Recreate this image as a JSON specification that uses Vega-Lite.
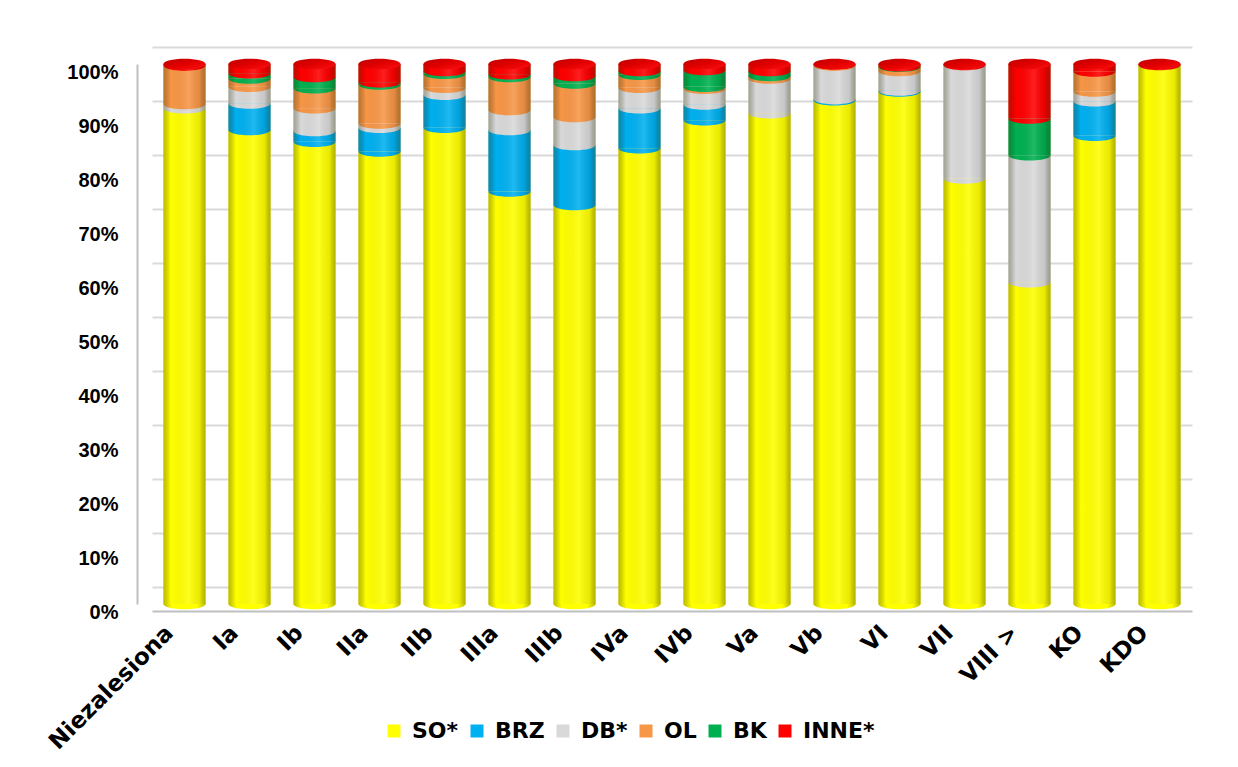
{
  "$schema": "https://vega.github.io/schema/vega-lite/v6.json",
  "width": 1040,
  "height": 540,
  "autosize": {"type": "none"},
  "padding": {"left": 152, "top": 64, "right": 46, "bottom": 163},
  "background": "white",
  "config": {"view": {"stroke": null}, "font": "Liberation Sans"},
  "data": {
    "values": [
      {"cat": "Niezalesiona", "s": "SO*", "v": 91.8},
      {"cat": "Niezalesiona", "s": "BRZ", "v": 0},
      {"cat": "Niezalesiona", "s": "DB*", "v": 0.8},
      {"cat": "Niezalesiona", "s": "OL", "v": 7.1},
      {"cat": "Niezalesiona", "s": "BK", "v": 0},
      {"cat": "Niezalesiona", "s": "INNE*", "v": 0.3},
      {"cat": "Ia", "s": "SO*", "v": 87.8},
      {"cat": "Ia", "s": "BRZ", "v": 4.9},
      {"cat": "Ia", "s": "DB*", "v": 3.1},
      {"cat": "Ia", "s": "OL", "v": 1.5},
      {"cat": "Ia", "s": "BK", "v": 1.0},
      {"cat": "Ia", "s": "INNE*", "v": 1.7},
      {"cat": "Ib", "s": "SO*", "v": 85.6},
      {"cat": "Ib", "s": "BRZ", "v": 2.0},
      {"cat": "Ib", "s": "DB*", "v": 4.2},
      {"cat": "Ib", "s": "OL", "v": 3.7},
      {"cat": "Ib", "s": "BK", "v": 2.1},
      {"cat": "Ib", "s": "INNE*", "v": 2.4},
      {"cat": "IIa", "s": "SO*", "v": 83.8},
      {"cat": "IIa", "s": "BRZ", "v": 4.4},
      {"cat": "IIa", "s": "DB*", "v": 0.8},
      {"cat": "IIa", "s": "OL", "v": 7.2},
      {"cat": "IIa", "s": "BK", "v": 0.4},
      {"cat": "IIa", "s": "INNE*", "v": 3.4},
      {"cat": "IIb", "s": "SO*", "v": 88.2},
      {"cat": "IIb", "s": "BRZ", "v": 6.1},
      {"cat": "IIb", "s": "DB*", "v": 1.3},
      {"cat": "IIb", "s": "OL", "v": 2.6},
      {"cat": "IIb", "s": "BK", "v": 0.5},
      {"cat": "IIb", "s": "INNE*", "v": 1.3},
      {"cat": "IIIa", "s": "SO*", "v": 76.4},
      {"cat": "IIIa", "s": "BRZ", "v": 11.4},
      {"cat": "IIIa", "s": "DB*", "v": 3.7},
      {"cat": "IIIa", "s": "OL", "v": 6.1},
      {"cat": "IIIa", "s": "BK", "v": 0.5},
      {"cat": "IIIa", "s": "INNE*", "v": 1.9},
      {"cat": "IIIb", "s": "SO*", "v": 73.9},
      {"cat": "IIIb", "s": "BRZ", "v": 11.1},
      {"cat": "IIIb", "s": "DB*", "v": 5.2},
      {"cat": "IIIb", "s": "OL", "v": 6.2},
      {"cat": "IIIb", "s": "BK", "v": 1.4},
      {"cat": "IIIb", "s": "INNE*", "v": 2.2},
      {"cat": "IVa", "s": "SO*", "v": 84.4},
      {"cat": "IVa", "s": "BRZ", "v": 7.4},
      {"cat": "IVa", "s": "DB*", "v": 3.8},
      {"cat": "IVa", "s": "OL", "v": 2.4},
      {"cat": "IVa", "s": "BK", "v": 0.7},
      {"cat": "IVa", "s": "INNE*", "v": 1.3},
      {"cat": "IVb", "s": "SO*", "v": 89.6},
      {"cat": "IVb", "s": "BRZ", "v": 2.9},
      {"cat": "IVb", "s": "DB*", "v": 2.9},
      {"cat": "IVb", "s": "OL", "v": 0.4},
      {"cat": "IVb", "s": "BK", "v": 3.1},
      {"cat": "IVb", "s": "INNE*", "v": 1.1},
      {"cat": "Va", "s": "SO*", "v": 90.9},
      {"cat": "Va", "s": "BRZ", "v": 0},
      {"cat": "Va", "s": "DB*", "v": 6.4},
      {"cat": "Va", "s": "OL", "v": 0.5},
      {"cat": "Va", "s": "BK", "v": 0.9},
      {"cat": "Va", "s": "INNE*", "v": 1.3},
      {"cat": "Vb", "s": "SO*", "v": 93.3},
      {"cat": "Vb", "s": "BRZ", "v": 0.2},
      {"cat": "Vb", "s": "DB*", "v": 6.2},
      {"cat": "Vb", "s": "OL", "v": 0.2},
      {"cat": "Vb", "s": "BK", "v": 0},
      {"cat": "Vb", "s": "INNE*", "v": 0.1},
      {"cat": "VI", "s": "SO*", "v": 94.9},
      {"cat": "VI", "s": "BRZ", "v": 0.2},
      {"cat": "VI", "s": "DB*", "v": 3.6},
      {"cat": "VI", "s": "OL", "v": 0.8},
      {"cat": "VI", "s": "BK", "v": 0.1},
      {"cat": "VI", "s": "INNE*", "v": 0.4},
      {"cat": "VII", "s": "SO*", "v": 78.8},
      {"cat": "VII", "s": "BRZ", "v": 0},
      {"cat": "VII", "s": "DB*", "v": 21.0},
      {"cat": "VII", "s": "OL", "v": 0},
      {"cat": "VII", "s": "BK", "v": 0},
      {"cat": "VII", "s": "INNE*", "v": 0.2},
      {"cat": "VIII >", "s": "SO*", "v": 59.6},
      {"cat": "VIII >", "s": "BRZ", "v": 0},
      {"cat": "VIII >", "s": "DB*", "v": 23.5},
      {"cat": "VIII >", "s": "OL", "v": 0},
      {"cat": "VIII >", "s": "BK", "v": 6.8},
      {"cat": "VIII >", "s": "INNE*", "v": 10.1},
      {"cat": "KO", "s": "SO*", "v": 86.7},
      {"cat": "KO", "s": "BRZ", "v": 6.4},
      {"cat": "KO", "s": "DB*", "v": 1.8},
      {"cat": "KO", "s": "OL", "v": 3.7},
      {"cat": "KO", "s": "BK", "v": 0},
      {"cat": "KO", "s": "INNE*", "v": 1.4},
      {"cat": "KDO", "s": "SO*", "v": 99.8},
      {"cat": "KDO", "s": "BRZ", "v": 0},
      {"cat": "KDO", "s": "DB*", "v": 0},
      {"cat": "KDO", "s": "OL", "v": 0},
      {"cat": "KDO", "s": "BK", "v": 0},
      {"cat": "KDO", "s": "INNE*", "v": 0.2}
    ]
  },
  "layer": [
    {
      "transform": [
        {"aggregate": [{"op": "sum", "field": "v", "as": "total"}], "groupby": ["cat"]}
      ],
      "mark": {
        "type": "point",
        "shape": "M -1 0 A 1 0.25 0 1 1 1 0 A 1 0.25 0 1 1 -1 0 Z",
        "size": 1785,
        "filled": true,
        "opacity": 1,
        "strokeWidth": 0,
        "color": {
          "gradient": "linear",
          "x1": 0, "y1": 0, "x2": 1, "y2": 0,
          "stops": [
            {"offset": 0, "color": "#B8B800"},
            {"offset": 0.2, "color": "#FFFF00"},
            {"offset": 0.8, "color": "#FFFF00"},
            {"offset": 1, "color": "#B8B800"}
          ]
        }
      },
      "encoding": {
        "x": {"field": "cat", "type": "nominal", "sort": null},
        "y": {"datum": 0, "type": "quantitative"}
      }
    },
    {
      "transform": [
        {"calculate": "indexof(['SO*','BRZ','DB*','OL','BK','INNE*'], datum.s)", "as": "ord"}
      ],
      "mark": {"type": "bar"},
      "encoding": {
        "x": {
          "field": "cat",
          "type": "nominal",
          "sort": null,
          "scale": {"paddingInner": 0.35, "paddingOuter": 0.175},
          "axis": {
            "title": null,
            "labelAngle": -45,
            "labelFont": "DejaVu Sans",
            "labelFontSize": 23,
            "labelFontWeight": "bold",
            "labelColor": "black",
            "ticks": false,
            "domainColor": "#BFBFBF",
            "domainWidth": 2,
            "offset": 7,
            "labelPadding": 18,
            "labelOffset": -15
          }
        },
        "y": {
          "field": "v",
          "type": "quantitative",
          "stack": "zero",
          "scale": {"domain": [0, 100], "nice": false},
          "axis": {
            "title": null,
            "values": [0, 10, 20, 30, 40, 50, 60, 70, 80, 90, 100],
            "labelExpr": "datum.value + '%'",
            "grid": true,
            "gridColor": "#D9D9D9",
            "gridWidth": 2,
            "tickOffset": -17,
            "labelOffset": 25,
            "ticks": false,
            "domainColor": "#BFBFBF",
            "domainWidth": 2,
            "offset": 15,
            "labelPadding": 19,
            "labelFont": "Liberation Sans",
            "labelFontSize": 20,
            "labelFontWeight": "bold",
            "labelColor": "black"
          }
        },
        "order": {"field": "ord", "type": "quantitative"},
        "color": {
          "field": "s",
          "type": "nominal",
          "sort": ["SO*", "BRZ", "DB*", "OL", "BK", "INNE*"],
          "scale": {
            "domain": ["SO*", "BRZ", "DB*", "OL", "BK", "INNE*"],
            "range": ["#FFFF00", "#00B0F0", "#D9D9D9", "#F79646", "#00B050", "#FF0000"]
          },
          "legend": {
            "orient": "none",
            "legendX": 231,
            "legendY": 656,
            "direction": "horizontal",
            "columns": 6,
            "title": null,
            "symbolType": "square",
            "symbolSize": 169,
            "symbolStrokeWidth": 0,
            "labelFont": "DejaVu Sans",
            "labelFontSize": 22,
            "labelFontWeight": "bold",
            "labelColor": "black",
            "labelOffset": 7,
            "columnPadding": 7
          }
        }
      }
    },
    {
      "transform": [
        {"calculate": "indexof(['SO*','BRZ','DB*','OL','BK','INNE*'], datum.s)", "as": "ord"},
        {"stack": "v", "groupby": ["cat"], "sort": [{"field": "ord", "order": "ascending"}], "as": ["v0", "v1"]},
        {"filter": "datum.v > 0 && datum.ord > 0"}
      ],
      "mark": {
        "type": "point",
        "shape": "M -1 0 A 1 0.25 0 0 0 1 0 Z",
        "size": 1785,
        "filled": true,
        "opacity": 1,
        "strokeWidth": 0
      },
      "encoding": {
        "x": {"field": "cat", "type": "nominal", "sort": null},
        "y": {"field": "v0", "type": "quantitative"},
        "order": {"field": "ord", "type": "quantitative"},
        "color": {"field": "s", "type": "nominal", "legend": null}
      }
    },
    {
      "transform": [
        {"aggregate": [{"op": "sum", "field": "v", "as": "total"}], "groupby": ["cat"]}
      ],
      "mark": {
        "type": "bar",
        "color": {
          "gradient": "linear",
          "x1": 0, "y1": 0, "x2": 1, "y2": 0,
          "stops": [
            {"offset": 0, "color": "rgba(60,60,0,0.35)"},
            {"offset": 0.18, "color": "rgba(0,0,0,0.0)"},
            {"offset": 0.6, "color": "rgba(255,255,255,0.12)"},
            {"offset": 0.85, "color": "rgba(0,0,0,0.08)"},
            {"offset": 1, "color": "rgba(60,60,0,0.4)"}
          ]
        }
      },
      "encoding": {
        "x": {"field": "cat", "type": "nominal", "sort": null},
        "y": {"field": "total", "type": "quantitative"}
      }
    },
    {
      "transform": [
        {"aggregate": [{"op": "sum", "field": "v", "as": "total"}], "groupby": ["cat"]}
      ],
      "mark": {
        "type": "point",
        "shape": "M -1 0 A 1 0.25 0 1 1 1 0 A 1 0.25 0 1 1 -1 0 Z",
        "size": 1785,
        "filled": true,
        "opacity": 1,
        "strokeWidth": 0,
        "color": {
          "gradient": "linear",
          "x1": 0, "y1": 0, "x2": 1, "y2": 1,
          "stops": [
            {"offset": 0, "color": "#C00000"},
            {"offset": 0.5, "color": "#E00000"},
            {"offset": 1, "color": "#FF1010"}
          ]
        }
      },
      "encoding": {
        "x": {"field": "cat", "type": "nominal", "sort": null},
        "y": {"field": "total", "type": "quantitative"}
      }
    }
  ]
}
